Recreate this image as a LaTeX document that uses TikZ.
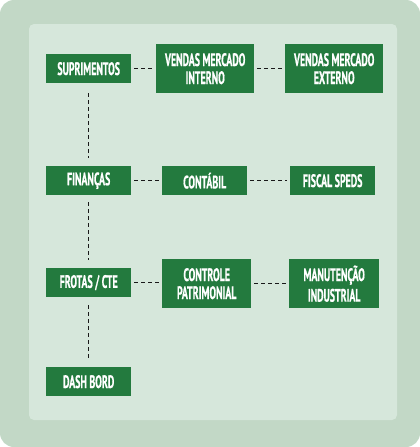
\documentclass[tikz,border=0pt]{standalone}
\usepackage{fontspec}
\setmainfont[FakeStretch=0.55, BoldFeatures={FakeBold=0.6}]{PT Sans}
\definecolor{outerbg}{HTML}{C2D8C6}
\definecolor{innerbg}{HTML}{D6E7DB}
\definecolor{boxgreen}{HTML}{237A3E}
\tikzset{
  box/.style={fill=boxgreen, text=white, font=\bfseries\fontsize{18}{15}\selectfont,
    align=center, inner sep=0pt, anchor=north west},
  link/.style={draw=black!90, line width=1.5pt, dash pattern=on 4pt off 3pt, shorten <=3pt, shorten >=3pt}
}
\begin{document}
\begin{tikzpicture}[x=1pt,y=-1pt]
\useasboundingbox (0,0) rectangle (420,447);
\fill[outerbg, rounded corners=14pt] (0,0) rectangle (420,447);
\fill[innerbg, rounded corners=5pt] (29,24) rectangle (397,420);
% row 1
\node[box, minimum width=85pt, minimum height=29pt] (sup) at (46,54) {SUPRIMENTOS};
\node[box, minimum width=98pt, minimum height=49pt] (vmi) at (156,44) {VENDAS MERCADO\\[3pt]INTERNO};
\node[box, minimum width=98pt, minimum height=49pt] (vme) at (285,44) {VENDAS MERCADO\\[3pt]EXTERNO};
% row 2
\node[box, minimum width=85pt, minimum height=29pt] (fin) at (46,166) {FINANÇAS};
\node[box, minimum width=85pt, minimum height=29pt] (cont) at (162,166) {CONTÁBIL};
\node[box, minimum width=85pt, minimum height=29pt] (fis) at (290,166) {FISCAL SPEDS};
% row 3
\node[box, minimum width=85pt, minimum height=29pt] (fro) at (46,268) {FROTAS / CTE};
\node[box, minimum width=89pt, minimum height=49pt] (ctr) at (162,259) {CONTROLE\\[3pt]PATRIMONIAL};
\node[box, minimum width=90pt, minimum height=49pt] (man) at (289,259) {MANUTENÇÃO\\[3pt]INDUSTRIAL};
% row 4
\node[box, minimum width=85pt, minimum height=29pt] (dash) at (46,367) {DASH BORD};
% links
\draw[link] (sup) -- (vmi);
\draw[link] (vmi) -- (vme);
\draw[link] (fin) -- (cont);
\draw[link] (cont) -- (fis);
\draw[link] (fro.east) -- (ctr.west |- fro.east);
\draw[link] (ctr) -- (man);
\draw[link, shorten <=10pt, shorten >=8pt] (sup) -- (fin);
\draw[link, shorten <=7pt, shorten >=8pt] (fin) -- (fro);
\draw[link, shorten <=8pt, shorten >=9pt] (fro) -- (dash);
\end{tikzpicture}
\end{document}
